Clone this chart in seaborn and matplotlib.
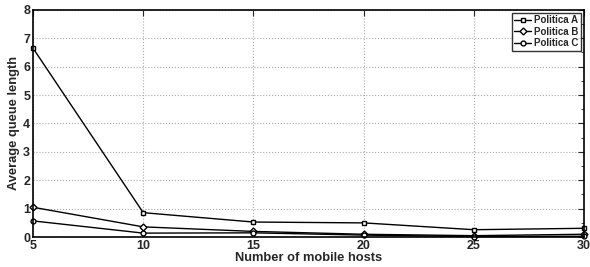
import pandas as pd
import seaborn as sns
import matplotlib.pyplot as plt
from matplotlib.ticker import MultipleLocator

hosts = [5, 10, 15, 20, 25, 30]
politica_a = [6.65, 0.86, 0.53, 0.50, 0.26, 0.31]
politica_b = [1.05, 0.36, 0.20, 0.10, 0.05, 0.10]
politica_c = [0.57, 0.14, 0.15, 0.07, 0.02, 0.03]
series_names = ['Politica A', 'Politica B', 'Politica C']

df = pd.DataFrame({
  'hosts': hosts * 3,
  'queue': politica_a + politica_b + politica_c,
  'policy': [n for n in series_names for _ in hosts],
})

sns.set_style('white')
plt.rcParams['font.family'] = ['Liberation Sans', 'DejaVu Sans']
plt.rcParams['font.weight'] = 'bold'

fig = plt.figure(figsize=(5.9, 2.67), dpi=100)
ax = fig.add_axes([0.056, 0.112, 0.934, 0.851])

sns.lineplot(data=df, x='hosts', y='queue', hue='policy', style='policy',
             palette=['black'] * 3, markers=['s', 'D', 'o'], dashes=False,
             markersize=3.5, markerfacecolor='white', markeredgecolor='black',
             markeredgewidth=1, linewidth=1, ax=ax)
for ln in ax.get_lines():
  ln.set_clip_on(False)

ax.set_xlim(5, 30)
ax.set_ylim(0, 8)
ax.set_xticks([5, 10, 15, 20, 25, 30])
ax.set_yticks(range(0, 9))
ax.yaxis.set_minor_locator(MultipleLocator(0.5))
ax.grid(True, which='major', linestyle=':', color='#aaaaaa', linewidth=0.8)
ax.tick_params(which='both', direction='in', top=True, right=True, labelsize=9, pad=2)
ax.tick_params(which='major', length=4)
ax.tick_params(which='minor', length=2)
for lab in ax.get_xticklabels() + ax.get_yticklabels():
  lab.set_fontweight('bold')
for s in ax.spines.values():
  s.set_color('black')
  s.set_linewidth(1.2)

ax.set_xlabel('Number of mobile hosts', fontsize=9.3, fontweight='bold', labelpad=0)
ax.set_ylabel('Average queue length', fontsize=9.3, fontweight='bold', labelpad=2)

leg = ax.legend(loc='upper right', fontsize=7, frameon=True, fancybox=False,
                handlelength=1.8, borderpad=0.25, labelspacing=0.15, handletextpad=0.3,
                borderaxespad=0.3)
leg.get_frame().set_edgecolor('black')
leg.get_frame().set_linewidth(1)
for t in leg.get_texts():
  t.set_fontweight('bold')

plt.savefig('out.png', dpi=100)
plt.close()
